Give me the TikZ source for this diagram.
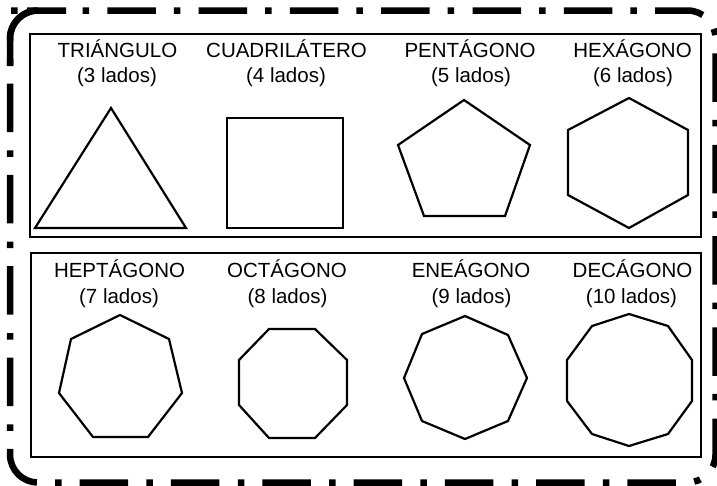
\documentclass[tikz,border=0pt]{standalone}
\usepackage{fontspec}
\setmainfont{Liberation Sans}
\begin{document}
\begin{tikzpicture}[x=1pt,y=-1pt,
  lbl/.style={anchor=base, inner sep=0pt, font=\fontsize{20.5}{24}\selectfont},
  box/.style={draw, line width=2pt},
  poly/.style={draw, line width=2.2pt, line join=miter},
  frame/.style={draw, line width=6.5pt, rounded corners=28pt}]
\useasboundingbox (0,0) rectangle (717,485);
% outer dash-dot frame
\draw[frame, dash pattern=on 6.5pt off 18.3pt on 48.5pt off 18pt, dash phase=74.8pt]
  (38,10.5) -- (715.5,10.5) -- (715.5,482.5) -- (10,482.5) -- (10,10.5) -- cycle;
\draw[frame] (10,66) -- (10,10.5) -- (38,10.5);
% inner boxes
\draw[box] (29.5,33.5) rectangle (701,237);
\draw[box] (31,253) rectangle (701,457);
% labels row 1
\node[lbl] (t1) at (117.5,57.3) {TRIÁNGULO};
\node[lbl] (s1) at (117,82) {(3 lados)};
\node[lbl] (t2) at (286.5,57.3) {CUADRILÁTERO};
\node[lbl] (s2) at (286,82) {(4 lados)};
\node[lbl] (t3) at (470,57.3) {PENTÁGONO};
\node[lbl] (s3) at (471,82) {(5 lados)};
\node[lbl] (t4) at (632.5,57.3) {HEXÁGONO};
\node[lbl] (s4) at (633,82) {(6 lados)};
% labels row 2
\node[lbl] (t5) at (119.5,277) {HEPTÁGONO};
\node[lbl] (s5) at (119,303.5) {(7 lados)};
\node[lbl] (t6) at (287,277) {OCTÁGONO};
\node[lbl] (s6) at (287.5,303.5) {(8 lados)};
\node[lbl] (t7) at (471,277) {ENEÁGONO};
\node[lbl] (s7) at (471.5,303.5) {(9 lados)};
\node[lbl] (t8) at (632.5,277) {DECÁGONO};
\node[lbl] (s8) at (631.5,303.5) {(10 lados)};
% shapes row 1
\draw[poly] (111,108) -- (35,228) -- (186,228) -- cycle;
\draw[poly] (227,118) rectangle (343,228);
\draw[poly] (464,100) -- (530,145) -- (505,216) -- (424,216) -- (398,145) -- cycle;
\draw[poly] (629,98) -- (688,130) -- (688,195) -- (629,228) -- (568,195) -- (568,130) -- cycle;
% shapes row 2
\draw[poly] (120,315) -- (169,339) -- (182,393) -- (148,437) -- (93,437) -- (59,393) -- (71,339) -- cycle;
\draw[poly] (269,329) -- (315,329) -- (347,360) -- (347,405) -- (315,438) -- (269,438) -- (239,405) -- (239,360) -- cycle;
\draw[poly] (465,316) -- (508,335) -- (527,378) -- (508,421) -- (465,439) -- (422,421) -- (404,378) -- (422,334) -- cycle;
\draw[poly] (629,314) -- (668,326) -- (692,360) -- (692,401) -- (668,434) -- (629,446) -- (592,434) -- (567,401) -- (567,360) -- (592,326) -- cycle;
\end{tikzpicture}
\end{document}
